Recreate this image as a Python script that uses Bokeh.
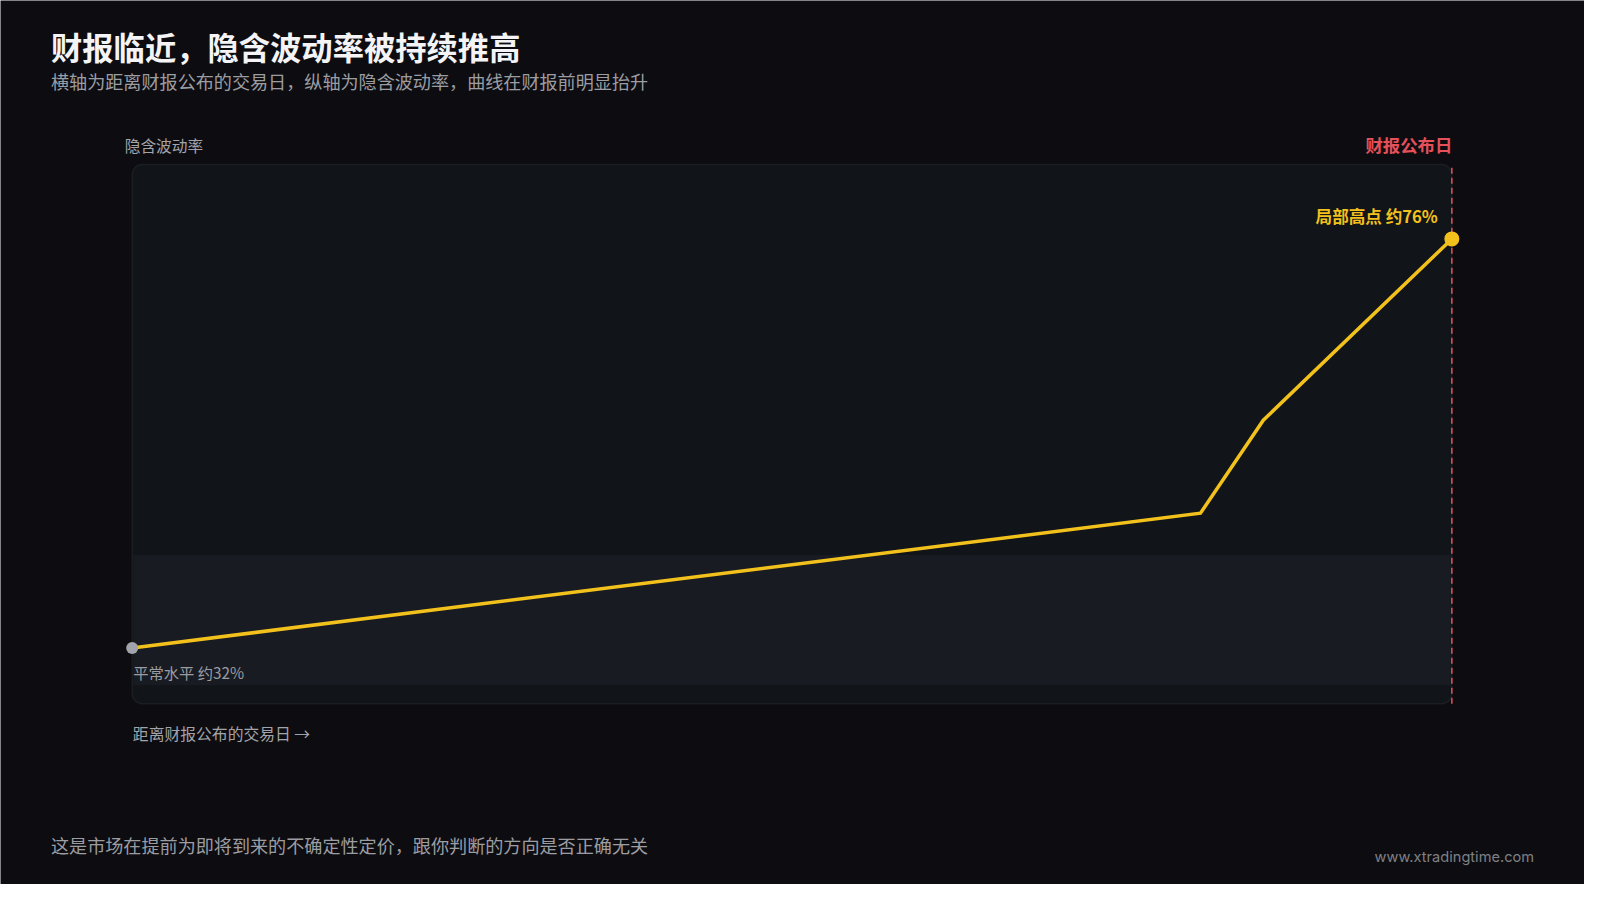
from bokeh.plotting import figure
from bokeh.models import Label, BoxAnnotation, Range1d
from bokeh.embed import file_html
from bokeh.resources import INLINE

# ---- data ----
days = [-21, -4, -3, 0]            # trading days relative to earnings date
iv = [32.0, 46.5, 56.5, 76.0]      # implied volatility (%)
normal_band = [28.0, 42.0]         # normal IV band (%)
x_bounds = [-21, 0]
y_bounds = [26, 84]
event_day = 0

title = "财报临近，隐含波动率被持续推高"
subtitle = "横轴为距离财报公布的交易日，纵轴为隐含波动率，曲线在财报前明显抬升"
y_label = "隐含波动率"
x_label = "距离财报公布的交易日 →"
event_label = "财报公布日"
peak_label = "局部高点 约76%"
start_label = "平常水平 约32%"
footer = "这是市场在提前为即将到来的不确定性定价，跟你判断的方向是否正确无关"
watermark = "www.xtradingtime.com"

BG = "#0d0d11"
FONT = "Noto Sans CJK SC"
LINE = "#f3c11b"

W, H = 1584, 884
SX, SY = W / 1600, H / 900   # layout designed on a 1600x900 grid


def gx(v):
    return v * SX


def gy(v):
    return v * SY


# chart box position on the canvas (pixels)
BL, BR, BT, BB = gx(133), gx(1466), gy(167), gy(716)

kx = (BR - BL) / (x_bounds[1] - x_bounds[0])
ky = (BB - BT) / (y_bounds[1] - y_bounds[0])
x_range = Range1d(x_bounds[0] - BL / kx, x_bounds[1] + (W - BR) / kx)
y_range = Range1d(y_bounds[0] - (H - BB) / ky, y_bounds[1] + BT / ky)

p = figure(width=W, height=H, output_backend="svg", toolbar_location=None,
           x_range=x_range, y_range=y_range,
           x_axis_location=None, y_axis_location=None,
           min_border=0)
p.background_fill_color = BG
p.border_fill_color = BG
p.outline_line_color = None
p.xgrid.visible = False
p.ygrid.visible = False


def cx2x(cx):
    return x_range.start + cx / kx


def cy2y(cy):
    return y_range.end - cy / ky


# chart box
box = BoxAnnotation(left=x_bounds[0], right=x_bounds[1], bottom=y_bounds[0], top=y_bounds[1],
                    fill_color="#111419", fill_alpha=1.0,
                    line_color="#373a42", line_width=1.5, border_radius=10, level="underlay")
p.add_layout(box)
band = BoxAnnotation(left=x_bounds[0] + 0.02, right=x_bounds[1] - 0.02,
                     bottom=normal_band[0], top=normal_band[1],
                     fill_color="#181b22", fill_alpha=1.0, line_color=None, level="underlay")
p.add_layout(band)

# event line
p.segment(x0=[event_day], y0=[y_bounds[0]], x1=[event_day], y1=[y_bounds[1]],
          line_color="#e5505a", line_width=1.5, line_dash="6 4")

# IV curve
p.line(days, iv, line_color=LINE, line_width=3.5, line_join="miter")
p.scatter([days[0]], [iv[0]], size=12, fill_color="#a2a4ab", line_color=None)
p.scatter([days[-1]], [iv[-1]], size=15, fill_color=LINE, line_color=None)


def lab(text, cx, cy, size, color, align="left", bold=False, font=FONT):
    p.add_layout(Label(x=cx2x(gx(cx)), y=cy2y(gy(cy)),
                       text=text, text_font=font, text_font_size=f"{size}px",
                       text_color=color, text_align=align, text_baseline="middle",
                       text_font_style="bold" if bold else "normal"))


lab(title, 51, 47.2, 31.3, "#f4f4f6", bold=True)
lab(subtitle, 51, 81.6, 18.1, "#9c9da3")
lab(y_label, 125.5, 148, 15.7, "#a3a4aa")
lab(event_label, 1466.5, 147, 17.4, "#e5505a", align="right", bold=True)
lab(x_label, 133.7, 746.7, 15.8, "#a3a4aa")
lab(footer, 51, 860, 18.1, "#9c9da3")
lab(watermark, 1549, 871.7, 14.6, "#7f8086", align="right", font="Inter")

# point labels (data anchored)
p.add_layout(Label(x=days[-1], y=iv[-1], x_offset=-14, y_offset=23, text=peak_label,
                   text_font=FONT, text_font_size="16.6px", text_color=LINE,
                   text_font_style="bold", text_align="right", text_baseline="middle"))
p.add_layout(Label(x=days[0], y=iv[0], x_offset=1, y_offset=-24.5, text=start_label,
                   text_font=FONT, text_font_size="15.3px", text_color="#9c9da3",
                   text_align="left", text_baseline="middle"))

html = file_html(p, INLINE)
html = html.replace("<body>", '<body style="background:%s">' % BG, 1)
open("out.html", "w").write(html)
